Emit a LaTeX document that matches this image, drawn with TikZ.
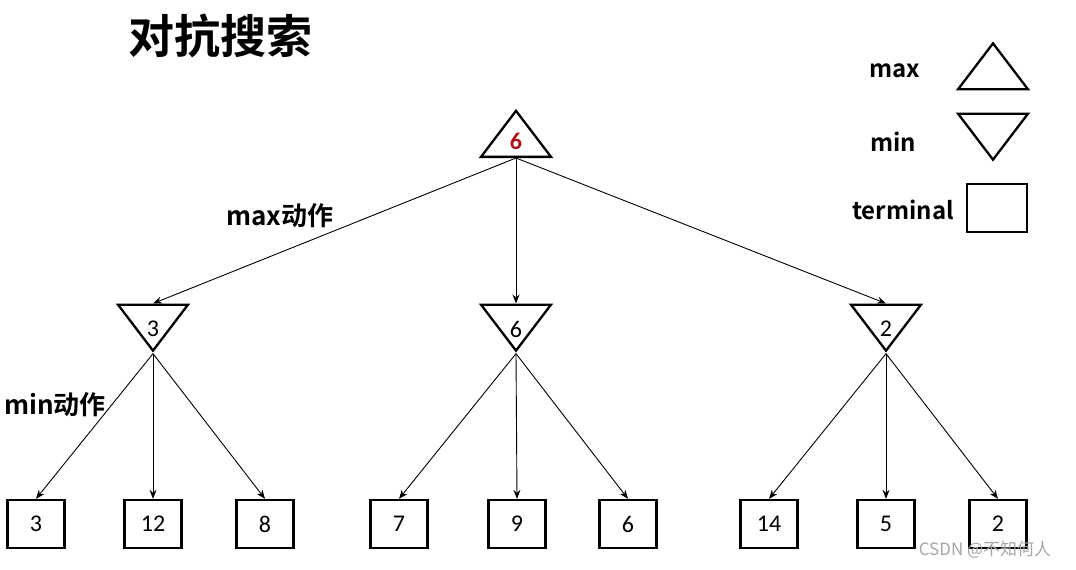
\documentclass[tikz,border=0pt]{standalone}
\usepackage{fontspec}
\setmainfont{Carlito}
\newfontfamily\cjk{Noto Sans CJK SC}[BoldFont={Noto Sans CJK SC Bold}]
\usetikzlibrary{arrows.meta,shapes.geometric}
\definecolor{rootred}{RGB}{170,20,30}

\begin{document}
\begin{tikzpicture}[
  x=1pt, y=-1pt,
  maxtri/.style={draw, line width=2.3pt, isosceles triangle, isosceles triangle stretches,
                 shape border rotate=90, minimum width=70pt, minimum height=46pt,
                 inner sep=0pt, label={[num, yshift=-1.5pt]center:#1}},
  mintri/.style={maxtri, shape border rotate=-90, label={[num, yshift=-7pt]center:#1}},
  maxtri/.default={}, mintri/.default={},
  num/.style={font=\fontsize{24}{27}\selectfont, inner sep=0pt},
  term/.style={draw, line width=2.3pt, minimum width=57pt, minimum height=48pt,
               inner sep=0pt, font=\fontsize{24}{27}\selectfont},
  ar/.style={-{Stealth[length=9pt,width=7pt]}, line width=0.9pt},
  lbl/.style={font=\cjk\bfseries\fontsize{26}{29}\selectfont, inner sep=0pt},
  key/.style={font=\cjk\bfseries\fontsize{24}{27}\selectfont, inner sep=0pt}
]
\useasboundingbox (0,0) rectangle (1076,570);

\node[font=\cjk\bfseries\fontsize{46}{50}\selectfont] (title) at (220,36) {对抗搜索};

% tree
\node[maxtri={\textcolor{rootred}{\bfseries 6}}] (root) at (516,139.5) {};
\node[mintri=3] (m1) at (153,322) {};
\node[mintri=6] (m2) at (516,322) {};
\node[mintri=2] (m3) at (886,322) {};

\node[term] (t1) at (36,524)  {3};
\node[term] (t2) at (153,524) {12};
\node[term] (t3) at (265,524) {8};
\node[term] (t4) at (399,524) {7};
\node[term] (t5) at (517,524) {9};
\node[term] (t6) at (628,524) {6};
\node[term] (t7) at (769,524) {14};
\node[term] (t8) at (886,524) {5};
\node[term] (t9) at (998,524) {2};

\draw[ar] (root.south) -- (m1.north);
\draw[ar] (root.south) -- (m2.north);
\draw[ar] (root.south) -- (m3.north);
\foreach \m/\a/\b/\c in {m1/t1/t2/t3, m2/t4/t5/t6, m3/t7/t8/t9} {
  \draw[ar] (\m.south) -- (\a.north);
  \draw[ar] (\m.south) -- (\b.north);
  \draw[ar] (\m.south) -- (\c.north);
}

\node[lbl] (maxact) at (280,216) {max动作};
\node[lbl] (minact) at (55,405) {min动作};

% legend
\node[key] (lmax)  at (895,71)  {max};
\node[key] (lmin)  at (893,142) {min};
\node[key] (lterm) at (903,210) {terminal};
\node[maxtri] (kmax) at (993,72) {};
\node[mintri] (kmin) at (993,131) {};
\node[term, minimum width=60pt] (kterm) at (997,208) {};

\node[font=\cjk\fontsize{17}{20}\selectfont, text=black!35] (mark) at (985,550) {CSDN @不知何人};
\end{tikzpicture}
\end{document}
